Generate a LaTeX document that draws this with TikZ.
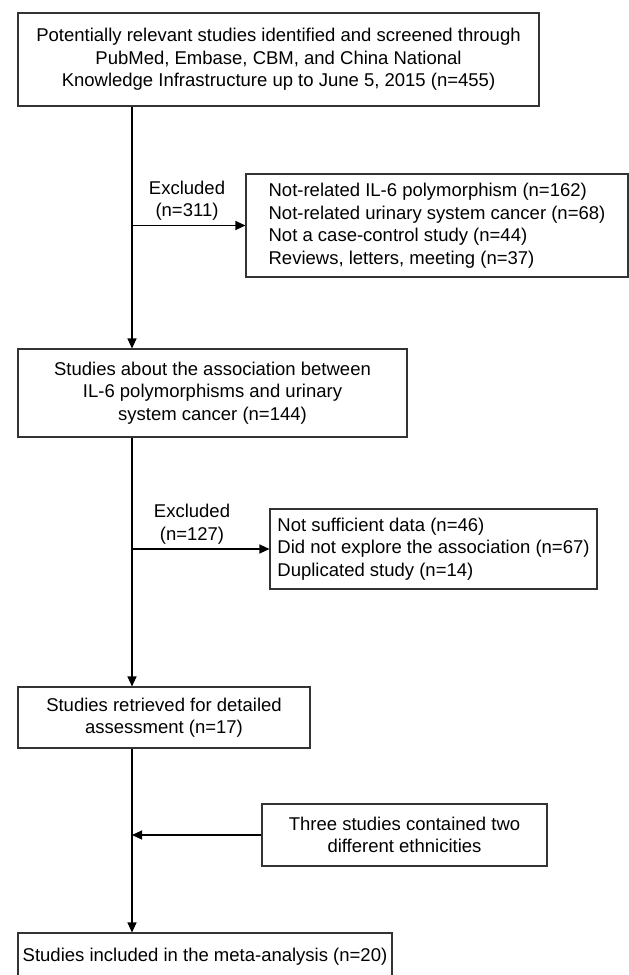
\documentclass[tikz,border=0pt]{standalone}
\usepackage{fontspec}
\setmainfont{Liberation Sans}
\usetikzlibrary{arrows.meta}
\begin{document}
\begin{tikzpicture}[x=1pt,y=-1pt,
  box/.style={draw=black!80,line width=1.1pt,align=center,inner sep=0pt,font=\fontsize{18.5}{22.5}\selectfont},
  listbox/.style={box,align=left},
  lbl/.style={align=center,inner sep=0pt,font=\fontsize{18.5}{22.5}\selectfont},
  conn/.style={line width=1.2pt,-{Triangle[length=10pt,width=9pt]}}]
\useasboundingbox (0,0) rectangle (629,975);
\clip (0,0) rectangle (629,975);
\coordinate (s1) at (132,0);
\node[box,minimum width=521pt,minimum height=93pt] (b1) at (278.5,59.5)
  {Potentially relevant studies identified and screened through\\PubMed, Embase, CBM, and China National\\Knowledge Infrastructure up to June 5, 2015 (n=455)};
\node[listbox,minimum width=382pt,minimum height=103pt] (e1) at (437,225.5)
  {Not-related IL-6 polymorphism (n=162)\\Not-related urinary system cancer (n=68)\\Not a case-control study (n=44)\\Reviews, letters, meeting (n=37)};
\node[lbl] (x1) at (187,200.5) {Excluded\\(n=311)};
\node[box,minimum width=389pt,minimum height=88pt] (b2) at (212.5,393)
  {Studies about the association between\\IL-6 polymorphisms and urinary\\system cancer (n=144)};
\node[listbox,minimum width=327pt,minimum height=80pt] (e2) at (433.5,549)
  {Not sufficient data (n=46)\\Did not explore the association (n=67)\\Duplicated study (n=14)};
\node[lbl] (x2) at (192,524) {Excluded\\(n=127)};
\node[box,minimum width=292pt,minimum height=61pt] (b3) at (164,717.5)
  {Studies retrieved for detailed\\assessment (n=17)};
\node[box,minimum width=285pt,minimum height=62pt] (b4) at (404.5,835)
  {Three studies contained two\\different ethnicities};
\node[box,minimum width=374pt,minimum height=48pt] (b5) at (205,957)
  {Studies included in the meta-analysis (n=20)};
\draw[conn] (b1.south -| s1) -- (b2.north -| s1);
\draw[conn] (e1.west -| s1) -- (e1.west);
\draw[conn] (b2.south -| s1) -- (b3.north -| s1);
\draw[conn] (e2.west -| s1) -- (e2.west);
\draw[conn] (b3.south -| s1) -- (b5.north -| s1);
\draw[conn] (b4.west) -- (b4.west -| s1);
\end{tikzpicture}
\end{document}
